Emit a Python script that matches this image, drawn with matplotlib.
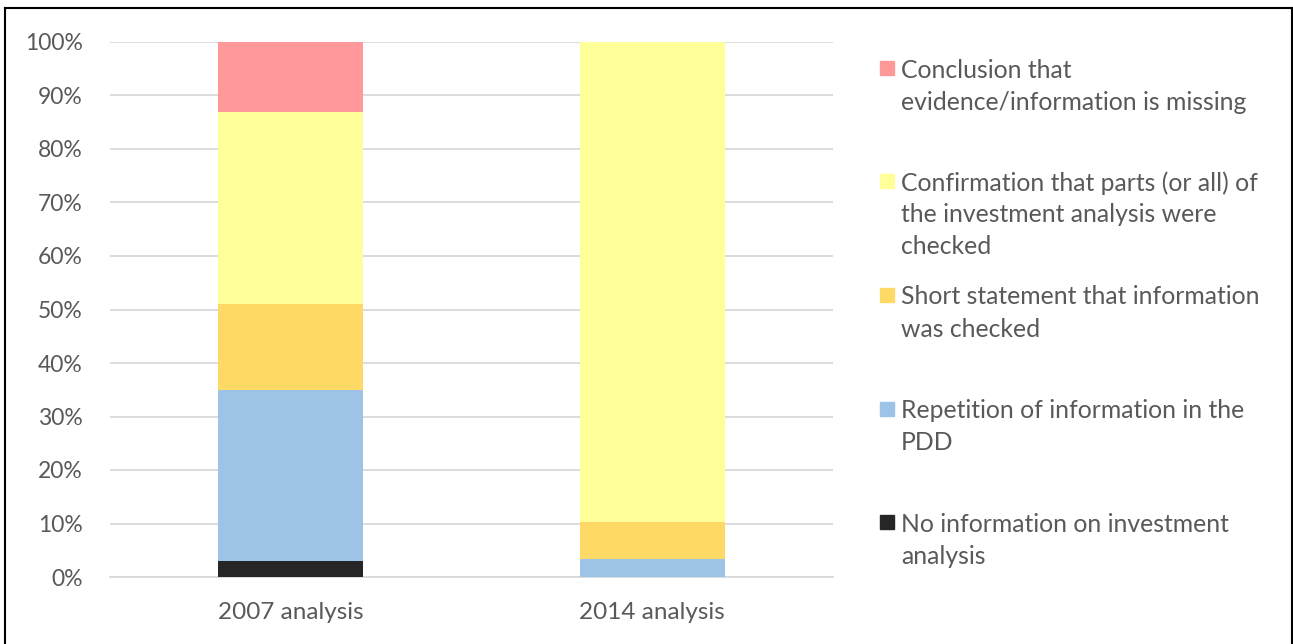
import matplotlib
matplotlib.use("Agg")
import matplotlib.pyplot as plt
from matplotlib.patches import Rectangle
from matplotlib.lines import Line2D

categories = ["2007 analysis", "2014 analysis"]
series_names = [
    "No information on investment\nanalysis",
    "Repetition of information in the\nPDD",
    "Short statement that information\nwas checked",
    "Confirmation that parts (or all) of\nthe investment analysis were\nchecked",
    "Conclusion that\nevidence/information is missing",
]
no_info = [3.0, 0.0]
repetition = [32.0, 3.4]
short_statement = [16.0, 6.9]
confirmation = [36.0, 89.7]
conclusion = [13.0, 0.0]
series_values = [no_info, repetition, short_statement, confirmation, conclusion]
colors = ["#262626", "#9DC3E6", "#FFD966", "#FFFF99", "#FF9999"]
tick_labels = ["0%", "10%", "20%", "30%", "40%", "50%", "60%", "70%", "80%", "90%", "100%"]

W, H = 1293, 644
fig = plt.figure(figsize=(W / 100, H / 100), dpi=100)
FONT = "Lato"
TXT = "#595959"

ax = fig.add_axes([110 / W, 1 - 577 / H, (833 - 110) / W, (577 - 42) / H])
x = list(range(len(categories)))
bottoms = [0.0] * len(categories)
for vals, c in zip(series_values, colors):
    ax.bar(x, vals, bottom=bottoms, width=0.40, color=c, zorder=3, linewidth=0)
    bottoms = [b + v for b, v in zip(bottoms, vals)]

ax.set_xlim(-0.5, 1.5)
ax.set_ylim(0, 100)
ax.set_yticks(range(0, 101, 10))
ax.set_yticklabels(tick_labels, fontsize=16.5, color=TXT, family=FONT)
ax.set_xticks(x)
ax.set_xticklabels(categories, fontsize=17.5, color=TXT, family=FONT)
ax.yaxis.grid(True, color="#D9D9D9", linewidth=1.3, zorder=0)
for s in ["top", "right", "left"]:
    ax.spines[s].set_visible(False)
ax.spines["bottom"].set_color("#D9D9D9")
ax.spines["bottom"].set_linewidth(1.3)
ax.tick_params(axis="both", length=0)
ax.tick_params(axis="y", pad=19.5)
ax.tick_params(axis="x", pad=18)

# legend (manual, top to bottom: reversed series order)
entry_tops = [68, 181, 295, 409, 522]
line_step = 32
for i, (name, c) in enumerate(zip(series_names[::-1], colors[::-1])):
    yc = entry_tops[i]
    fig.patches.append(Rectangle((880 / W, 1 - (yc + 7) / H), 14 / W, 14 / H,
                                 transform=fig.transFigure, color=c, figure=fig))
    for j, line in enumerate(name.split("\n")):
        fig.text(901 / W, 1 - (yc + 2 + j * line_step) / H, line, fontsize=17.8, color=TXT,
                 family=FONT, va="center", ha="left")

# frame around the figure
fig.add_artist(Line2D([5 / W, 5 / W], [0, 1 - 8 / H], transform=fig.transFigure, color="black", lw=1.5))
fig.add_artist(Line2D([5 / W, 1292 / W], [1 - 8 / H, 1 - 8 / H], transform=fig.transFigure, color="black", lw=1.5))
fig.add_artist(Line2D([1291.5 / W, 1291.5 / W], [0, 1 - 8 / H], transform=fig.transFigure, color="black", lw=1.5))

fig.savefig("out.png", dpi=100)
